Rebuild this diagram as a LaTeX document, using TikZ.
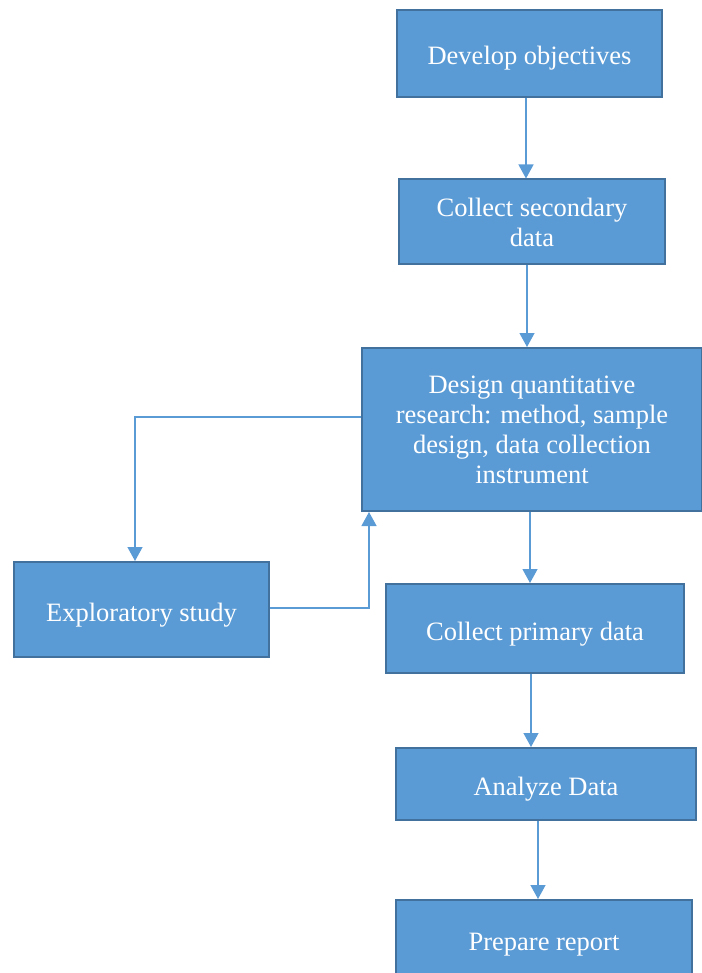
\documentclass[tikz,border=0pt]{standalone}
\usepackage{fontspec}
\setmainfont{Liberation Serif}
\usetikzlibrary{arrows.meta}
\definecolor{boxfill}{HTML}{5B9BD5}
\definecolor{boxline}{HTML}{41719C}
\begin{document}
\begin{tikzpicture}[x=1pt, y=-1pt,
                every node/.style = {draw=boxline, line width=2pt, fill=boxfill,
                    text=white, align=center, inner sep=0pt,
                    font=\fontsize{26.5}{30}\selectfont},
                oneline/.style = {text height=24pt, text depth=1pt},
                flow/.style = {draw=boxfill, line width=1.3pt,
                    -{Triangle[width=15pt,length=14pt]}}
            ]
            \useasboundingbox (0,0) rectangle (701,973);
            \node[oneline, minimum width=265pt, minimum height=87pt] (objectives) at (529.5,53.5) {Develop objectives};
            \node[minimum width=266pt, minimum height=85pt] (secondary) at (532,222) {Collect secondary\\data};
            \node[minimum width=340pt, minimum height=163pt] (design) at (532,429.5)
                {Design quantitative\\research: method, sample\\design, data collection\\instrument};
            \node[oneline, minimum width=255pt, minimum height=95pt] (explore) at (141.5,609.5) {Exploratory study};
            \node[oneline, minimum width=298pt, minimum height=89pt] (primary) at (535,628.5) {Collect primary data};
            \node[oneline, minimum width=300pt, minimum height=72pt] (analyze) at (546,784) {Analyze Data};
            \node[oneline, minimum width=296pt, minimum height=77pt] (report) at (544,938.5) {Prepare report};

            \draw[flow] ([xshift=-3.5pt]objectives.south) -- ([xshift=-3.5pt]objectives.south |- secondary.north);
            \draw[flow] ([xshift=-5pt]secondary.south) -- ([xshift=-5pt]secondary.south |- design.north);
            \draw[flow] ([xshift=-2pt]design.south) -- ([xshift=-2pt]design.south |- primary.north);
            \draw[flow] ([xshift=-4pt]primary.south) -- ([xshift=-4pt]primary.south |- analyze.north);
            \draw[flow] ([xshift=-8pt]analyze.south) -- ([xshift=-8pt]analyze.south |- report.north);
            % loop through the exploratory study
            \draw[flow] ([yshift=12.5pt]design.west) -| ([xshift=-6.5pt]explore.north);
            \draw[flow] ([yshift=1.5pt]explore.east) -| ([xshift=8pt]design.south west);
        \end{tikzpicture}
\end{document}
